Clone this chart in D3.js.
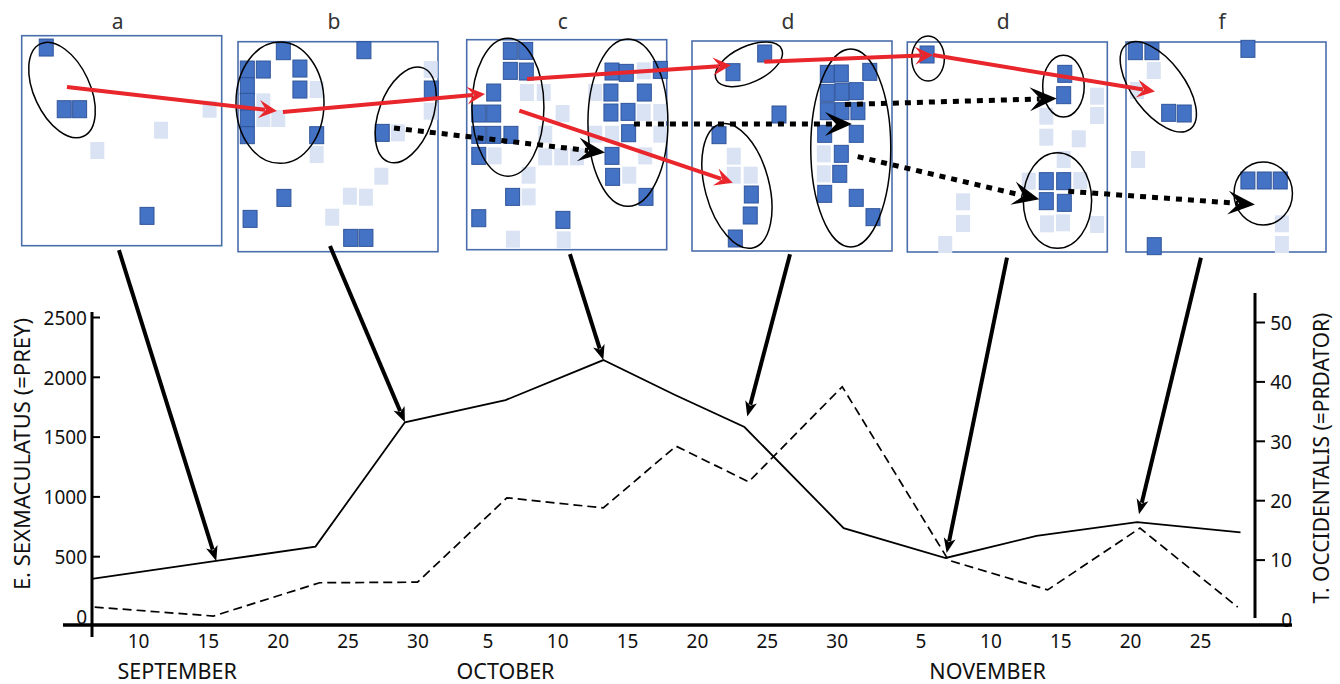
<!DOCTYPE html>
<html><head><meta charset="utf-8">
<script src="https://cdn.jsdelivr.net/npm/d3@7"></script>
<style>
body{margin:0;background:#fff;}
svg{display:block;}
text{font-family:"Noto Sans","Open Sans",sans-serif;fill:#111;}
</style>
</head><body>
<svg id="chart" width="1340" height="684"></svg>
<script>
// ---------- DATA ----------
const dayTicks = [10,15,20,25,30,35,40,45,50,55,60,66,71,76,81,86];   // days since Aug 31
const dayTickLabels = ["10","15","20","25","30","5","10","15","20","25","30","5","10","15","20","25"];
const months = ["SEPTEMBER","OCTOBER","NOVEMBER"];
const monthDays = [12.8, 36.3, 70.8];
const preyDays   = [6.7, 15.6, 22.7, 29.1, 36.3, 43.3, 48.4, 53.4, 60.5, 67.8, 74.3, 81.5, 88.9];
const preyValues = [310, 460, 580, 1620, 1805, 2140, 1850, 1580, 735, 485, 670, 785, 700];
const predDays   = [6.9, 15.4, 23.0, 30.0, 36.4, 43.3, 48.5, 53.7, 60.4, 68.0, 75.1, 81.7, 88.7];
const predValues = [2.0, 0.5, 6.1, 6.2, 20.4, 18.7, 29.1, 23.1, 39.1, 9.9, 4.9, 15.3, 2.0];
const preyTicks = [0,500,1000,1500,2000,2500];
const predTicks = [0,10,20,30,40,50];
const preyTitle = "E. SEXMACULATUS (=PREY)";
const predTitle = "T. OCCIDENTALIS (=PRDATOR)";
const panelLabels = ["a","b","c","d","d","f"];
// occupied cells per panel [col,row] (dark = many mites, light = few)
const panelDark = [
 [[1.14,0.2],[2.31,3.9],[3.31,3.9],[7.69,10.3]],
 [[2.49,0.06],[7.73,0],[0.15,1.16],[1.19,1.16],[3.57,1.1],[0.15,2.16],[3.57,2.36],[0.15,3.1],[0.15,4.1],[0.15,5.1],[4.66,5.1],[12.11,2.36],[8.92,4.96],[2.53,8.86],[0.33,10.12],[6.87,11.26],[7.86,11.26]],
 [[2.38,0.16],[3.38,0.16],[2.38,1.36],[3.42,1.4],[1.3,2.66],[0.33,3.92],[1.3,3.92],[0.33,5.2],[1.3,5.2],[2.42,5.2],[0.33,6.46],[2.53,8.92],[0.33,10.2],[5.8,10.3],[8.99,1.4],[9.92,1.48],[12.13,1.3],[8.92,2.66],[11.09,2.66],[8.92,3.86],[10.03,3.82],[10.07,5.1],[8.99,6.46],[9.03,7.72],[11.2,8.92]],
 [[4.27,0.24],[2.21,1.36],[5.2,3.9],[1.3,5.14],[3.4,8.7],[3.33,9.96],[2.36,11.34],[8.34,1.46],[9.25,1.44],[11.1,1.34],[8.34,2.6],[9.29,2.54],[10.22,2.5],[8.34,3.7],[9.29,3.7],[10.33,3.7],[8.17,5.06],[10.22,5.06],[9.25,6.26],[9.15,7.46],[8.17,8.66],[10.22,8.9],[11.31,10.06]],
 [[0.83,0.24],[9.78,1.4],[9.71,2.68],[8.58,7.84],[9.71,7.84],[8.58,9.04],[9.75,9.14]],
 [[0.15,0.04],[1.23,0.04],[7.47,-0.1],[2.32,3.74],[3.33,3.78],[7.47,7.8],[8.53,7.8],[9.57,7.8],[1.38,11.74]]
];
const panelLight = [
 [[11.76,3.9],[8.6,5.16],[4.46,6.38]],
 [[4.66,2.36],[1.19,3.1],[1.19,4.1],[2.16,4.1],[4.66,6.26],[12.07,1.16],[12.07,3.66],[9.94,4.96],[8.86,7.56],[6.82,8.76],[7.86,8.82],[5.67,10.02]],
 [[3.46,2.66],[4.55,2.66],[5.78,3.92],[4.65,5.16],[1.36,6.46],[4.65,6.52],[5.69,6.52],[6.71,6.52],[3.57,7.62],[3.57,8.92],[2.55,11.46],[5.85,11.5],[7.9,2.66],[11.05,1.36],[11.05,3.86],[12.13,3.86],[7.9,5.16],[8.99,5.16],[12.13,5.16],[11.15,6.46],[10.11,7.62]],
 [[2.26,6.4],[2.26,7.54],[3.36,7.54],[8.11,6.26],[8.11,7.46]],
 [[11.88,2.74],[11.88,3.9],[8.58,3.94],[8.58,5.2],[10.69,5.3],[9.71,6.54],[7.44,7.84],[10.79,7.8],[3.17,9.08],[3.17,10.38],[8.63,10.4],[9.67,10.34],[11.88,10.44],[2.01,11.64]],
 [[1.35,1.2],[0.26,2.4],[0.33,6.54],[9.68,10.4],[9.68,11.64]]
];
// colonies circled: [panel, col, row, rxCols, ryRows, angle]
const colonies = [[0,2.62,3.26,1.82,3.06,-25],[1,2.73,3.66,2.86,3.64,0],[1,10.9,4.39,1.75,3.0,20],[2,2.68,4.05,2.34,4.14,0],[2,10.48,4.98,2.6,5.02,0],[3,3.7,1.4,2.34,1.08,-25],[3,2.92,8.69,2.08,3.84,-15],[3,10.32,6.42,2.6,5.94,0],[4,1.35,0.99,1.06,1.35,0],[4,10.15,2.65,1.35,1.85,0],[4,9.76,9.51,2.22,2.87,0],[5,2.1,2.69,1.69,3.18,-37],[5,8.92,9.09,1.9,1.89,0]];
// prey movement (red) and predator movement (dotted): [panelFrom,col,row, panelTo,col,row]
const preyMoves = [[0,2.94,3.08,1,2.53,4.16],[1,2.92,4.22,2,1.19,3.26],[2,3.92,2.36,3,2.53,1.46],[2,3.42,4.26,3,2.65,8.5],[3,4.7,1.24,4,1.67,0.78],[4,1.67,0.78,5,1.88,2.97]];
const predMoves = [[1,10.14,5.18,2,8.99,6.77],[2,10.87,5.06,3,10.4,4.98],[3,9.94,3.81,4,9.71,3.39],[3,10.77,6.94,4,8.58,9.44],[4,10.46,8.96,5,8.38,9.75]];
// each panel points at a sample date on the prey curve
const panelLinkStart = [[6.32,12.86],[5.98,12.26],[6.71,12.86],[6.37,12.8],[6.48,12.94],[4.87,12.94]];
const panelLinkTarget = [1,3,5,7,9,11];
const panelLinkGap = [0,0,0,11,5,8];

// ---------- LAYOUT ----------
const svg = d3.select("#chart");
const panelPos = [[21.7,35.7],[238,41.7],[466.7,39.7],[692,41],[907.3,42],[1126,42]];
const PW = 200, PH = 210;
const gx = d3.scaleLinear().domain([0,13]).range([0,PW]);
const gy = d3.scaleLinear().domain([0,12.6]).range([0,PH]);
const pt = (p,c,r) => [panelPos[p][0]+gx(c), panelPos[p][1]+gy(r)];

const x = d3.scaleLinear().domain([10,86]).range([138,1200]);
const yPrey = d3.scaleLinear().domain([0,2500]).range([616,317]);
const yPred = d3.scaleLinear().domain([0,50]).range([619,322]);

function arrowHead(g, x0,y0,x1,y1, L,W,N, color){
  const dx=x1-x0, dy=y1-y0, len=Math.hypot(dx,dy), ux=dx/len, uy=dy/len, nx=-uy, ny=ux;
  const p=[[x1,y1],[x1-L*ux+W*nx,y1-L*uy+W*ny],[x1-N*ux,y1-N*uy],[x1-L*ux-W*nx,y1-L*uy-W*ny]];
  g.append("path").attr("d","M"+p.map(q=>q[0].toFixed(2)+","+q[1].toFixed(2)).join("L")+"Z").attr("fill",color);
  return [x1-(N+1)*ux, y1-(N+1)*uy];
}

// ---------- PANELS ----------
const gp = svg.append("g");
panelPos.forEach((pp,i)=>{
  const g = gp.append("g");
  g.append("rect").attr("x",pp[0]).attr("y",pp[1]).attr("width",PW).attr("height",PH)
    .attr("fill","#fff").attr("stroke","#4a6eab").attr("stroke-width",1.6);
  g.append("text").attr("x",pp[0]+PW/2-4).attr("y",29).attr("text-anchor","middle")
    .attr("font-size",21).style("fill","#333").text(panelLabels[i]);
  g.selectAll("rect.l").data(panelLight[i]).join("rect").attr("class","l")
    .attr("x",d=>pt(i,d[0],d[1])[0]).attr("y",d=>pt(i,d[0],d[1])[1])
    .attr("width",14).attr("height",17).attr("fill","#dae3f3");
  g.selectAll("rect.d").data(panelDark[i]).join("rect").attr("class","d")
    .attr("x",d=>pt(i,d[0],d[1])[0]).attr("y",d=>pt(i,d[0],d[1])[1])
    .attr("width",14).attr("height",17).attr("fill","#4472c4").attr("stroke","#30559a").attr("stroke-width",1);
});
colonies.forEach(e=>{
  const c = pt(e[0],e[1],e[2]);
  gp.append("ellipse").attr("cx",0).attr("cy",0).attr("rx",gx(e[3])).attr("ry",gy(e[4]))
    .attr("transform",`translate(${c[0]},${c[1]}) rotate(${e[5]})`)
    .attr("fill","none").attr("stroke","#000").attr("stroke-width",1.5);
});

// ---------- MOVEMENT ARROWS ----------
const ga = svg.append("g");
preyMoves.forEach(m=>{
  const a = pt(m[0],m[1],m[2]), b = pt(m[3],m[4],m[5]);
  const e = arrowHead(ga, a[0],a[1],b[0],b[1], 18,9,11, "#e8262b");
  ga.append("line").attr("x1",a[0]).attr("y1",a[1]).attr("x2",e[0]).attr("y2",e[1])
    .attr("stroke","#e8262b").attr("stroke-width",4);
});
predMoves.forEach(m=>{
  const a = pt(m[0],m[1],m[2]), b = pt(m[3],m[4],m[5]);
  const e = arrowHead(ga, a[0],a[1],b[0],b[1], 27,12,16, "#000");
  ga.append("line").attr("x1",a[0]).attr("y1",a[1]).attr("x2",e[0]).attr("y2",e[1])
    .attr("stroke","#000").attr("stroke-width",5).attr("stroke-dasharray","6,6");
});

// ---------- CHART ----------
const gc = svg.append("g");
// left axis
const la = gc.append("g").attr("transform","translate(92,0)")
  .call(d3.axisLeft(yPrey).tickValues(preyTicks).tickFormat(d3.format("d")).tickSizeInner(-8).tickSizeOuter(0).tickPadding(5));
la.select(".domain").remove();
la.selectAll(".tick line").attr("stroke","#000").attr("stroke-width",2).filter(d=>d===0).remove();
la.selectAll(".tick text").attr("font-size",19).attr("font-family","Noto Sans").attr("dy","0.38em").style("fill","#111");
// right axis
const ra = gc.append("g").attr("transform","translate(1255,0)")
  .call(d3.axisRight(yPred).tickValues(predTicks).tickFormat(d3.format("d")).tickSizeInner(10).tickSizeOuter(0).tickPadding(5));
ra.select(".domain").remove();
ra.selectAll(".tick line").attr("stroke","#000").attr("stroke-width",2).filter(d=>d===0).remove();
ra.selectAll(".tick text").attr("font-size",19).attr("font-family","Noto Sans").attr("text-anchor","end").attr("x",37).attr("dy","0.38em").style("fill","#111");
// bottom axis labels
const ba = gc.append("g").attr("transform","translate(0,648)")
  .call(d3.axisBottom(x).tickValues(dayTicks).tickFormat((d,i)=>dayTickLabels[i]).tickSize(0).tickPadding(0));
ba.select(".domain").remove();
ba.selectAll(".tick text").attr("font-size",19).attr("font-family","Noto Sans").attr("dy","0").style("fill","#111");
// axis lines
gc.append("line").attr("x1",63).attr("x2",1292).attr("y1",625).attr("y2",625).attr("stroke","#000").attr("stroke-width",3.5);
gc.append("line").attr("x1",92).attr("x2",92).attr("y1",312).attr("y2",637).attr("stroke","#000").attr("stroke-width",3);
gc.append("line").attr("x1",1255).attr("x2",1255).attr("y1",293).attr("y2",618).attr("stroke","#000").attr("stroke-width",3);
// month labels
gc.selectAll("text.m").data(months).join("text").attr("class","m")
  .attr("x",(d,i)=>x(monthDays[i])).attr("y",679).attr("text-anchor","middle").attr("font-size",21.5).text(d=>d);
// titles
gc.append("text").attr("transform","translate(30,454) rotate(-90)").attr("text-anchor","middle").attr("font-size",22).text(preyTitle);
gc.append("text").attr("transform","translate(1329,458) rotate(-90)").attr("text-anchor","middle").attr("font-size",21).text(predTitle);
// series
const prey = preyDays.map((d,i)=>({d, v:preyValues[i]}));
const pred = predDays.map((d,i)=>({d, v:predValues[i]}));
gc.append("path").attr("d", d3.line().x(p=>x(p.d)).y(p=>yPrey(p.v))(prey))
  .attr("fill","none").attr("stroke","#000").attr("stroke-width",1.8);
gc.append("path").attr("d", d3.line().x(p=>x(p.d)).y(p=>yPred(p.v))(pred))
  .attr("fill","none").attr("stroke","#000").attr("stroke-width",1.7).attr("stroke-dasharray","9,5");
// panel-to-date arrows
panelLinkStart.forEach((s,i)=>{
  const a = pt(i,s[0],s[1]);
  const t = prey[panelLinkTarget[i]];
  let bx = x(t.d), by = yPrey(t.v);
  const dx=bx-a[0], dy=by-a[1], len=Math.hypot(dx,dy);
  bx -= dx/len*panelLinkGap[i]; by -= dy/len*panelLinkGap[i];
  const e = arrowHead(gc, a[0],a[1],bx,by, 15,6,11, "#000");
  gc.append("line").attr("x1",a[0]).attr("y1",a[1]).attr("x2",e[0]).attr("y2",e[1])
    .attr("stroke","#000").attr("stroke-width",4);
});
</script>
</body></html>
